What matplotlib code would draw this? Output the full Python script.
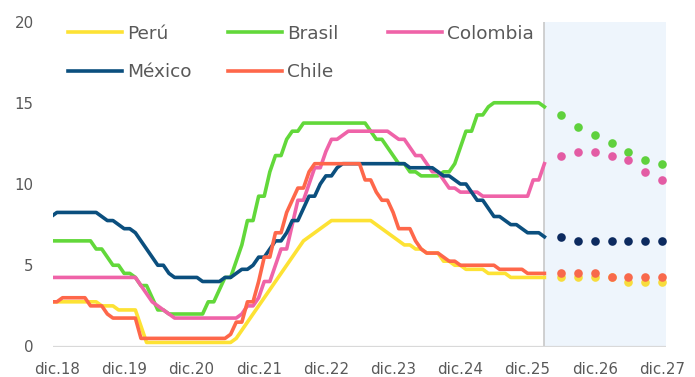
import numpy as np
import matplotlib.pyplot as plt

# Monthly policy rates, nov.18 .. mar.26 (one value per month)
peru = [2.75, 2.75,
        2.75, 2.75, 2.75, 2.75, 2.75, 2.75, 2.75, 2.50, 2.50, 2.50, 2.25, 2.25,
        2.25, 2.25, 1.25, 0.25, 0.25, 0.25, 0.25, 0.25, 0.25, 0.25, 0.25, 0.25,
        0.25, 0.25, 0.25, 0.25, 0.25, 0.25, 0.25, 0.50, 1.00, 1.50, 2.00, 2.50,
        3.00, 3.50, 4.00, 4.50, 5.00, 5.50, 6.00, 6.50, 6.75, 7.00, 7.25, 7.50,
        7.75, 7.75, 7.75, 7.75, 7.75, 7.75, 7.75, 7.75, 7.50, 7.25, 7.00, 6.75,
        6.50, 6.25, 6.25, 6.00, 6.00, 5.75, 5.75, 5.75, 5.25, 5.25, 5.00, 5.00,
        4.75, 4.75, 4.75, 4.75, 4.50, 4.50, 4.50, 4.50, 4.25, 4.25, 4.25, 4.25,
        4.25, 4.25, 4.25]

brasil = [6.50, 6.50,
          6.50, 6.50, 6.50, 6.50, 6.50, 6.50, 6.00, 6.00, 5.50, 5.00, 5.00, 4.50,
          4.50, 4.25, 3.75, 3.75, 3.00, 2.25, 2.25, 2.00, 2.00, 2.00, 2.00, 2.00,
          2.00, 2.00, 2.75, 2.75, 3.50, 4.25, 4.25, 5.25, 6.25, 7.75, 7.75, 9.25,
          9.25, 10.75, 11.75, 11.75, 12.75, 13.25, 13.25, 13.75, 13.75, 13.75, 13.75, 13.75,
          13.75, 13.75, 13.75, 13.75, 13.75, 13.75, 13.75, 13.25, 12.75, 12.75, 12.25, 11.75,
          11.25, 11.25, 10.75, 10.75, 10.50, 10.50, 10.50, 10.50, 10.75, 10.75, 11.25, 12.25,
          13.25, 13.25, 14.25, 14.25, 14.75, 15.00, 15.00, 15.00, 15.00, 15.00, 15.00, 15.00,
          15.00, 15.00, 14.75]

colombia = [4.25, 4.25,
            4.25, 4.25, 4.25, 4.25, 4.25, 4.25, 4.25, 4.25, 4.25, 4.25, 4.25, 4.25,
            4.25, 4.25, 3.75, 3.25, 2.75, 2.50, 2.25, 2.00, 1.75, 1.75, 1.75, 1.75,
            1.75, 1.75, 1.75, 1.75, 1.75, 1.75, 1.75, 1.75, 2.00, 2.50, 2.50, 3.00,
            4.00, 4.00, 5.00, 6.00, 6.00, 7.50, 9.00, 9.00, 10.00, 11.00, 11.00, 12.00,
            12.75, 12.75, 13.00, 13.25, 13.25, 13.25, 13.25, 13.25, 13.25, 13.25, 13.25, 13.00,
            12.75, 12.75, 12.25, 11.75, 11.75, 11.25, 10.75, 10.75, 10.25, 9.75, 9.75, 9.50,
            9.50, 9.50, 9.50, 9.25, 9.25, 9.25, 9.25, 9.25, 9.25, 9.25, 9.25, 9.25,
            10.25, 10.25, 11.25]

mexico = [8.00, 8.25,
          8.25, 8.25, 8.25, 8.25, 8.25, 8.25, 8.25, 8.00, 7.75, 7.75, 7.50, 7.25,
          7.25, 7.00, 6.50, 6.00, 5.50, 5.00, 5.00, 4.50, 4.25, 4.25, 4.25, 4.25,
          4.25, 4.00, 4.00, 4.00, 4.00, 4.25, 4.25, 4.50, 4.75, 4.75, 5.00, 5.50,
          5.50, 6.00, 6.50, 6.50, 7.00, 7.75, 7.75, 8.50, 9.25, 9.25, 10.00, 10.50,
          10.50, 11.00, 11.25, 11.25, 11.25, 11.25, 11.25, 11.25, 11.25, 11.25, 11.25, 11.25,
          11.25, 11.25, 11.00, 11.00, 11.00, 11.00, 11.00, 10.75, 10.50, 10.50, 10.25, 10.00,
          10.00, 9.50, 9.00, 9.00, 8.50, 8.00, 8.00, 7.75, 7.50, 7.50, 7.25, 7.00,
          7.00, 7.00, 6.75]

chile = [2.75, 2.75,
         3.00, 3.00, 3.00, 3.00, 3.00, 2.50, 2.50, 2.50, 2.00, 1.75, 1.75, 1.75,
         1.75, 1.75, 0.50, 0.50, 0.50, 0.50, 0.50, 0.50, 0.50, 0.50, 0.50, 0.50,
         0.50, 0.50, 0.50, 0.50, 0.50, 0.50, 0.75, 1.50, 1.50, 2.75, 2.75, 4.00,
         5.50, 5.50, 7.00, 7.00, 8.25, 9.00, 9.75, 9.75, 10.75, 11.25, 11.25, 11.25,
         11.25, 11.25, 11.25, 11.25, 11.25, 11.25, 10.25, 10.25, 9.50, 9.00, 9.00, 8.25,
         7.25, 7.25, 7.25, 6.50, 6.00, 5.75, 5.75, 5.75, 5.50, 5.25, 5.25, 5.00,
         5.00, 5.00, 5.00, 5.00, 5.00, 5.00, 4.75, 4.75, 4.75, 4.75, 4.75, 4.50,
         4.50, 4.50, 4.50]

# Quarterly forecasts, jun.26 .. dic.27
peru_f = [4.25, 4.25, 4.25, 4.25, 4.00, 4.00, 4.00]
brasil_f = [14.25, 13.50, 13.00, 12.50, 12.00, 11.50, 11.25]
colombia_f = [11.75, 12.00, 12.00, 11.75, 11.50, 10.75, 10.25]
mexico_f = [6.75, 6.50, 6.50, 6.50, 6.50, 6.50, 6.50]
chile_f = [4.50, 4.50, 4.50, 4.25, 4.25, 4.25, 4.25]

tick_labels = ['dic.18', 'dic.19', 'dic.20', 'dic.21', 'dic.22',
               'dic.23', 'dic.24', 'dic.25', 'dic.26', 'dic.27']

# months counted from dic.18
months = np.arange(len(peru)) - 1
quarters = np.arange(90, 109, 3)
last = months[-1]

series = [
    ('Perú', peru, peru_f, '#fde234', '#f7dc3c'),
    ('Brasil', brasil, brasil_f, '#62d83a', '#5fd13d'),
    ('Colombia', colombia, colombia_f, '#ef63a8', '#e35ca4'),
    ('México', mexico, mexico_f, '#0b4f7e', '#0c2a5f'),
    ('Chile', chile, chile_f, '#fe674a', '#f8694c'),
]

text_color = '#595959'

fig = plt.figure(figsize=(6.95, 3.77), dpi=100)
ax = fig.add_axes([53 / 695, 1 - 346.5 / 377, 613 / 695, 325 / 377])

ax.axvspan(last, 108.7, color='#eef5fc', zorder=0, lw=0)
ax.axvline(last, color='#c8c8c8', lw=1.2, zorder=1)
ax.axhline(0, color='#d9d9d9', lw=1.6, zorder=1)

handles = {}
for name, hist, fcst, c_line, c_dot in series:
    l, = ax.plot(months, hist, color=c_line, lw=2.6, label=name, zorder=3,
                 solid_joinstyle='round')
    ax.plot(quarters, fcst, 'o', color=c_dot, ms=6.2, mec='none', zorder=4)
    handles[name] = l

ax.set_xlim(-0.7, 108.7)
ax.set_ylim(0, 20)
ax.set_xticks(np.arange(0, 109, 12))
ax.set_xticklabels(tick_labels)
ax.set_yticks([0, 5, 10, 15, 20])
ax.tick_params(length=0, labelsize=10.8, labelcolor=text_color)
ax.tick_params(axis='x', pad=11)
ax.tick_params(axis='y', pad=14)
for s in ax.spines.values():
    s.set_visible(False)

# legend laid out as three fixed-width columns
columns = [(['Perú', 'México'], 0.0245), (['Brasil', 'Chile'], 0.2855), (['Colombia'], 0.5465)]
for i, (names, x0) in enumerate(columns):
    leg = ax.legend([handles[n] for n in names], names, loc='upper left',
                    bbox_to_anchor=(x0, 0.99), frameon=False, borderpad=0,
                    borderaxespad=0, fontsize=13.3, handlelength=2.9,
                    handletextpad=0.3, labelspacing=1.12, labelcolor=text_color)
    if i < len(columns) - 1:
        ax.add_artist(leg)

fig.savefig('out.png', dpi=100)
